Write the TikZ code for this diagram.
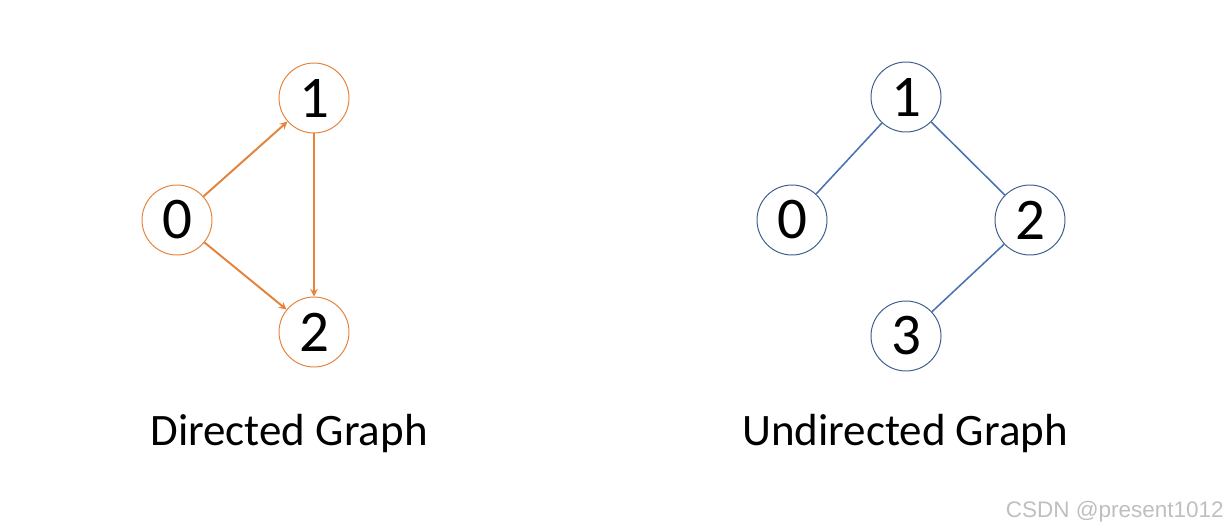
\documentclass[tikz,border=0pt]{standalone}
\usepackage{fontspec}
\setmainfont{Carlito}
\newfontfamily\markfont{Liberation Sans}
\usetikzlibrary{arrows}
\definecolor{dirorange}{HTML}{E5833C}
\definecolor{undblue}{HTML}{3E5F8E}
\definecolor{undline}{HTML}{4A72B0}
\begin{document}
\begin{tikzpicture}[xscale=1, yscale=1]
%% one unit is 40 pixels of the 1230x530 drawing
\tikzstyle{arc}=[->,>=stealth,line width=1.4pt,draw=dirorange,shorten >=0pt]
\tikzstyle{edge}=[line width=1.1pt,draw=undline]
\tikzstyle{vertex}=[circle,minimum size=1.75cm,inner sep=0pt,line width=0.7pt,font=\fontsize{42}{50}\selectfont]
\tikzstyle{dvertex}=[vertex,draw=dirorange]
\tikzstyle{uvertex}=[vertex,draw=undblue]
\tikzstyle{caption}=[font=\fontsize{32}{38}\selectfont]
\useasboundingbox (0,0) rectangle (30.75,-13.25);
%% directed graph
\node[dvertex] at (4.425,-5.5) (D0) {0};
\node[dvertex] at (7.85,-2.45) (D1) {1};
\node[dvertex] at (7.85,-8.3) (D2) {2};
\draw[arc] (D0) to[bend right=0] (D1);
\draw[arc] (D0) to[bend right=0] (D2);
\draw[arc] (D1) to[bend right=0] (D2);
%% label for directed graph
\node[caption] at (7.225,-10.825) (DLabel) {Directed Graph};
%% undirected graph
\node[uvertex] at (19.8,-5.5) (U0) {0};
\node[uvertex] at (22.65,-2.425) (U1) {1};
\node[uvertex] at (25.75,-5.5) (U2) {2};
\node[uvertex] at (22.65,-8.4) (U3) {3};
\draw[edge] (U1) to[bend right=0] (U0);
\draw[edge] (U1) to[bend right=0] (U2);
\draw[edge] (U2) to[bend right=0] (U3);
%% label for undirected graph
\node[caption] at (22.625,-10.825) (ULabel) {Undirected Graph};
%% watermark
\node[anchor=east,text=black!25,font=\markfont\fontsize{16}{19}\selectfont,inner sep=0pt] at (30.6,-12.8) (Mark) {CSDN @present1012};
\end{tikzpicture}
\end{document}
